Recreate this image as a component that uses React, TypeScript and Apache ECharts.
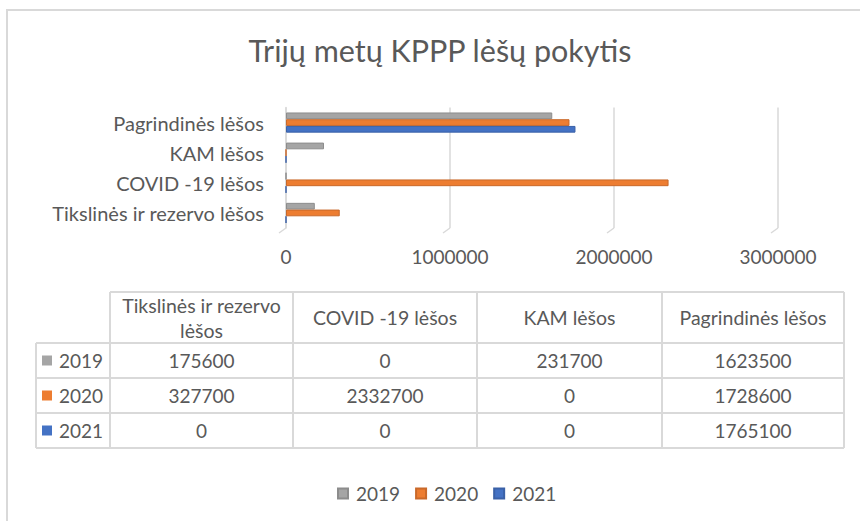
import React, { useEffect, useRef } from "react";
import * as echarts from "echarts";

const categories = ["Tikslinės ir rezervo lėšos", "COVID -19 lėšos", "KAM lėšos", "Pagrindinės lėšos"];
const tableHeaders = ["Tikslinės ir rezervo\nlėšos", "COVID -19 lėšos", "KAM lėšos", "Pagrindinės lėšos"];
const years = ["2019", "2020", "2021"];
const values2019 = [175600, 0, 231700, 1623500];
const values2020 = [327700, 2332700, 0, 1728600];
const values2021 = [0, 0, 0, 1765100];
const xTicks = [0, 1000000, 2000000, 3000000];
const colors = ["#A5A5A5", "#ED7D31", "#4472C4"];
const borderColors = ["#8c8c8c", "#c9692a", "#3a61a7"];

const FONT = "Lato";
const TEXT = "#595959";
const FS = 19;

export default function App() {
  const ref = useRef<HTMLDivElement>(null);
  useEffect(() => {
    document.body.style.margin = "0";
    const chart = echarts.init(ref.current!, null, { renderer: "svg" });
    const allValues = [values2019, values2020, values2021];

    const colX = [36, 110, 293, 477, 662, 844];
    const rowY = [292, 343, 378, 413, 448];
    const lineStyle = { stroke: "#D9D9D9", lineWidth: 2 };
    const g: any[] = [];
    g.push({ type: "rect", shape: { x: 7, y: 10, width: 870, height: 530 }, style: { fill: "none", stroke: "#D9D9D9", lineWidth: 2 }, silent: true });
    g.push({ type: "line", shape: { x1: colX[1], y1: rowY[0], x2: colX[5], y2: rowY[0] }, style: lineStyle });
    for (let r = 1; r < rowY.length; r++) {
      g.push({ type: "line", shape: { x1: colX[0], y1: rowY[r], x2: colX[5], y2: rowY[r] }, style: lineStyle });
    }
    g.push({ type: "line", shape: { x1: colX[0], y1: rowY[1], x2: colX[0], y2: rowY[4] }, style: lineStyle });
    for (let c = 1; c < colX.length; c++) {
      g.push({ type: "line", shape: { x1: colX[c], y1: rowY[0], x2: colX[c], y2: rowY[4] }, style: lineStyle });
    }
    tableHeaders.forEach((h, i) => {
      g.push({
        type: "text",
        x: (colX[i + 1] + colX[i + 2]) / 2,
        y: (rowY[0] + rowY[1]) / 2,
        style: { text: h, fill: TEXT, font: `19.5px ${FONT}`, align: "center", verticalAlign: "middle", lineHeight: 25 },
      });
    });
    years.forEach((yr, r) => {
      const cy = (rowY[r + 1] + rowY[r + 2]) / 2;
      g.push({ type: "rect", shape: { x: 42, y: cy - 5, width: 10, height: 10 }, style: { fill: colors[r] } });
      g.push({ type: "text", x: 59, y: cy, style: { text: yr, fill: TEXT, font: `${FS}px ${FONT}`, align: "left", verticalAlign: "middle" } });
      allValues[r].forEach((v, i) => {
        g.push({
          type: "text",
          x: (colX[i + 1] + colX[i + 2]) / 2,
          y: cy,
          style: { text: String(v), fill: TEXT, font: `${FS}px ${FONT}`, align: "center", verticalAlign: "middle" },
        });
      });
    });

    const gridTop = 107.5;
    const gridBottomY = 228;

    const option: any = {
      animation: false,
      backgroundColor: "#fff",
      title: {
        text: "Trijų metų KPPP lėšų pokytis",
        left: 435,
        textAlign: "center",
        top: 29,
        textStyle: { fontFamily: FONT, fontSize: 30.5, fontWeight: "normal", color: TEXT },
      },
      legend: {
        data: years,
        top: 479,
        left: 332,
        icon: "rect",
        itemWidth: 10,
        itemHeight: 10,
        itemGap: 15,
        textStyle: { fontFamily: FONT, fontSize: FS, color: TEXT, padding: [0, 0, 0, 3] },
      },
      grid: { left: 286, right: 82, top: gridTop, bottom: 521 - gridBottomY, containLabel: false },
      xAxis: {
        type: "value",
        min: xTicks[0],
        max: xTicks[xTicks.length - 1],
        interval: xTicks[1] - xTicks[0],
        axisLine: { show: false },
        axisTick: { show: false },
        splitLine: { lineStyle: { color: "#D9D9D9", width: 1.5 } },
        axisLabel: { fontFamily: FONT, fontSize: FS, color: TEXT, margin: 19, formatter: (v: number) => String(v) },
      },
      yAxis: {
        type: "category",
        data: categories,
        axisLine: { show: true, lineStyle: { color: "#D9D9D9", width: 1.5 } },
        axisTick: { show: false },
        axisLabel: { fontFamily: FONT, fontSize: 20, color: TEXT, margin: 22, padding: [12, 0, 0, 0] },
      },
      series: years.map((yr, i) => ({
        name: yr,
        type: "bar",
        data: allValues[i],
        barGap: "0%",
        barCategoryGap: "33%",
        itemStyle: { color: colors[i], borderColor: borderColors[i], borderWidth: 1 },
      })),
      graphic: g,
    };
    chart.setOption(option);

    const slants: any[] = xTicks.map((t) => {
      const px = chart.convertToPixel({ gridIndex: 0 }, [t, 0]) as number[];
      return {
        type: "line",
        shape: { x1: px[0], y1: gridBottomY, x2: px[0] - 7, y2: gridBottomY + 5 },
        style: { stroke: "#D9D9D9", lineWidth: 1.5 },
        silent: true,
      };
    });
    chart.setOption({ graphic: [...g, ...slants] });

    return () => chart.dispose();
  }, []);
  return <div ref={ref} style={{ width: 860, height: 521 }} />;
}
